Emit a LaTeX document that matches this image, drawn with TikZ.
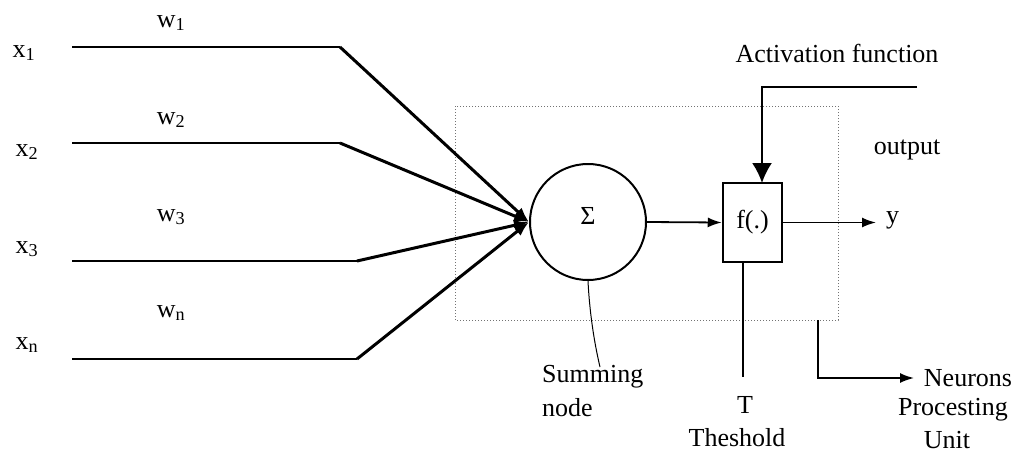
\documentclass[tikz,border=0pt]{standalone}
\usepackage{fontspec}
\setmainfont{Liberation Serif}
\usetikzlibrary{arrows.meta}
\begin{document}
\begin{tikzpicture}[x=1pt,y=-1pt,
  lbl/.style={inner sep=0pt, font=\fontsize{26}{31}\selectfont},
  inline/.style={line width=2pt},
  wline/.style={line width=3pt, -{Latex[length=15pt,width=11pt]}},
  thin/.style={line width=1.6pt},
  arr/.style={line width=1.8pt, -{Latex[length=14pt,width=10pt]}},
  bigarr/.style={line width=2pt, -{Latex[length=20pt,width=20pt]}},
  unitbox/.style={draw=black!55, line width=1pt, dotted}
]
\useasboundingbox (0,0) rectangle (1021,453);

% processing unit (dotted)
\draw[unitbox] (455,106) rectangle (838,320);
\coordinate (ub) at (818,320);

% summing node and activation box
\node[draw, circle, line width=2pt, minimum size=116pt, inner sep=0pt] (sum) at (588,222) {};
\node[lbl] at (588,216) {Σ};
\node[draw, line width=2.5pt, minimum width=59pt, minimum height=79pt, inner sep=0pt, lbl] (f) at (752.5,222.5) {f(.)};

% inputs
\node[lbl] (x1) at (24,53) {x\textsubscript{1}};
\node[lbl] (x2) at (27,152) {x\textsubscript{2}};
\node[lbl] (x3) at (27,249) {x\textsubscript{3}};
\node[lbl] (xn) at (27,345) {x\textsubscript{n}};
\node[lbl] (w1) at (171,23) {w\textsubscript{1}};
\node[lbl] (w2) at (171,120) {w\textsubscript{2}};
\node[lbl] (w3) at (171,217) {w\textsubscript{3}};
\node[lbl] (wn) at (171,313) {w\textsubscript{n}};

\coordinate (s1) at (72,47);  \coordinate (c1) at (340,47);
\coordinate (s2) at (72,143); \coordinate (c2) at (340,143);
\coordinate (s3) at (72,261); \coordinate (c3) at (357,261);
\coordinate (s4) at (72,359); \coordinate (c4) at (357,359);
\coordinate (tip) at (sum.west);

\draw[inline] (s1) -- (c1);
\draw[inline] (s2) -- (c2);
\draw[inline] (s3) -- (c3);
\draw[inline] (s4) -- (c4);
\draw[wline] (c1) -- (tip);
\draw[wline] (c2) -- (tip);
\draw[wline] (c3) -- (tip);
\draw[wline] (c4) -- (tip);

% sum -> f
\draw[arr] (sum.east) -- (f.west);

% activation function
\node[lbl] (act) at (837,53) {Activation function};
\coordinate (a0) at (917,87);
\coordinate (a1) at (762,87);
\draw[bigarr] (a0) -- (a1) -- (762,183);

% output
\node[lbl] (out) at (907,150) {output};
\node[lbl, anchor=west] (y) at (886,220) {y};
\coordinate (yend) at (876,222.5);
\draw[arr] (f.east) -- (yend);

% threshold
\node[lbl] (T) at (745,405) {T};
\node[lbl] (th) at (737,438) {Theshold};
\draw[thin] (743,262) -- (743,377);

% summing node label
\node[lbl, anchor=west] (sl) at (542,377) {Summing};
\node[lbl, anchor=west] (nl) at (542,408) {node};
\draw[line width=1pt] (sum.south) .. controls (590,320) and (596,350) .. (600,367);

% neurons processing unit
\node[lbl] (n1) at (968,378) {Neurons};
\node[lbl] (n2) at (953,410) {Procesting};
\node[lbl] (n3) at (947,440) {Unit};
\coordinate (nend) at (914,378);
\draw[arr] (ub) -- (818,378) -- (nend);
\end{tikzpicture}
\end{document}
